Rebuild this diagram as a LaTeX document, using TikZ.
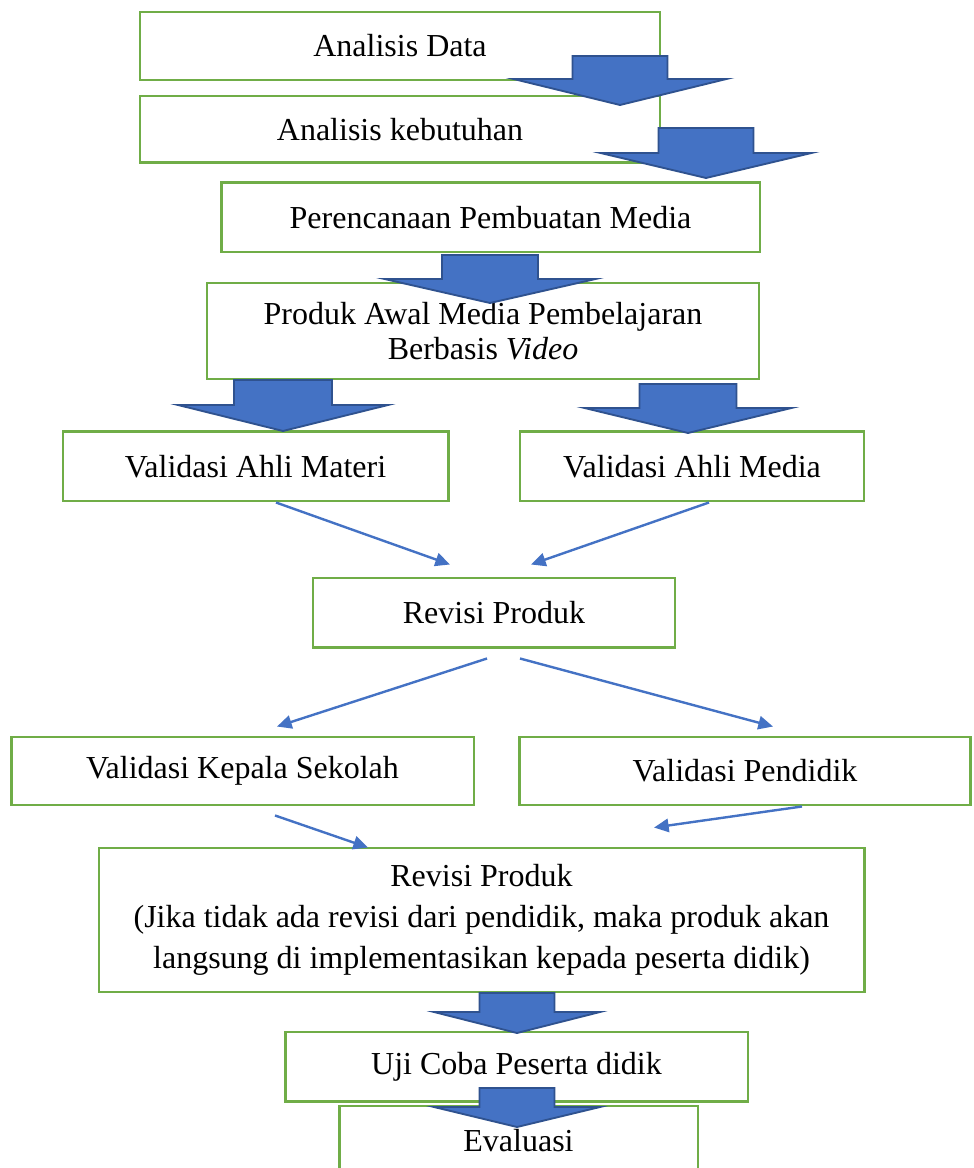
\documentclass[tikz,border=0pt]{standalone}
\usepackage{fontspec}
\setmainfont{Liberation Serif}
\usepackage{tikz}
\usetikzlibrary{arrows.meta, calc}
\definecolor{mygreen}{RGB}{112,173,71}
\definecolor{myblue}{RGB}{68,114,196}
\definecolor{mynavy}{RGB}{47,82,143}
\tikzset{
  box/.style={rectangle, draw=mygreen, fill=white, line width=1.1pt,
    align=center, inner sep=0pt, minimum height=25.9pt,
    font=\fontsize{12}{13.2}\selectfont},
  bigarrow/.style={draw=mynavy, fill=myblue, line width=0.7pt},
  arrow/.style={-{Triangle[length=5.5pt,width=5pt]}, draw=myblue, line width=0.9pt}
}

\begin{document}
\begin{tikzpicture}[x=0.375pt, y=-0.375pt]
  \useasboundingbox (0,0) rectangle (973,1168);

  % boxes
  \node[box, minimum width=195pt, minimum height=25.5pt] (data) at (400,46) {Analisis Data};
  \node[box, minimum width=195pt, minimum height=25.1pt] (butuh) at (400,129.5) {Analisis kebutuhan};
  \node[box, minimum width=202.1pt] (rencana) at (490.5,217.5) {Perencanaan Pembuatan Media};
  \node[box, minimum width=207pt, minimum height=36pt] (produk) at (483,331)
    {Produk Awal Media Pembelajaran\\Berbasis \textit{Video}};
  \node[box, minimum width=144.4pt] (materi) at (255.5,466.5) {Validasi Ahli Materi};
  \node[box, minimum width=129pt] (ahlimedia) at (692,466.5) {Validasi Ahli Media};
  \node[box, minimum width=135.75pt] (revisi) at (494,612.5) {Revisi Produk};
  \node[box, minimum width=173.6pt, minimum height=25.5pt] (kepsek) at (242.5,771) {Validasi Kepala Sekolah};
  \node[box, minimum width=168.8pt, minimum height=25.5pt] (pendidik) at (745,771) {Validasi Pendidik};
  \node[box, minimum width=286.9pt, minimum height=54pt, font=\fontsize{12}{15.4}\selectfont] (revisiakhir) at (481.5,920)
    {Revisi Produk\\(Jika tidak ada revisi dari pendidik, maka produk akan\\langsung di implementasikan kepada peserta didik)};
  \node[box, minimum width=173.6pt] (uji) at (516.5,1066.5) {Uji Coba Peserta didik};
  \node[box, minimum width=134.6pt] (eval) at (518.5,1140.5) {Evaluasi};

  % block arrows
  \foreach \cx/\yt/\yb/\yp/\sw/\hw in {620/56/79/105/47.5/106.5, 706/128/153/178/47.5/105.5,
      490/255/279/303/48/105.5, 283/380/405/431/49/105, 688/384/408/433/48.5/103.5,
      517/993/1012/1033/37.5/83, 517/1088/1107/1127/37.5/83}
    \draw[bigarrow] (\cx-\sw,\yt) -- (\cx+\sw,\yt) -- (\cx+\sw,\yb) -- (\cx+\hw,\yb)
      -- (\cx,\yp) -- (\cx-\hw,\yb) -- (\cx-\sw,\yb) -- cycle;

  % thin arrows
  \draw[arrow] ($(materi.south)+(20.5,0)$) -- ($(revisi.north)+(-44,-12)$);
  \draw[arrow] ($(ahlimedia.south)+(17,0)$) -- ($(revisi.north)+(37,-12)$);
  \draw[arrow] ($(revisi.south)+(-7,10)$) -- ($(kepsek.north)+(34.5,-9)$);
  \draw[arrow] ($(revisi.south)+(26,10)$) -- ($(pendidik.north)+(28,-9)$);
  \draw[arrow] ($(kepsek.south)+(32.5,9)$) -- ($(revisiakhir.north)+(-113.5,1)$);
  \draw[arrow] ($(pendidik.south)+(57,0)$) -- ($(revisiakhir.north)+(172.5,-19)$);
\end{tikzpicture}
\end{document}
